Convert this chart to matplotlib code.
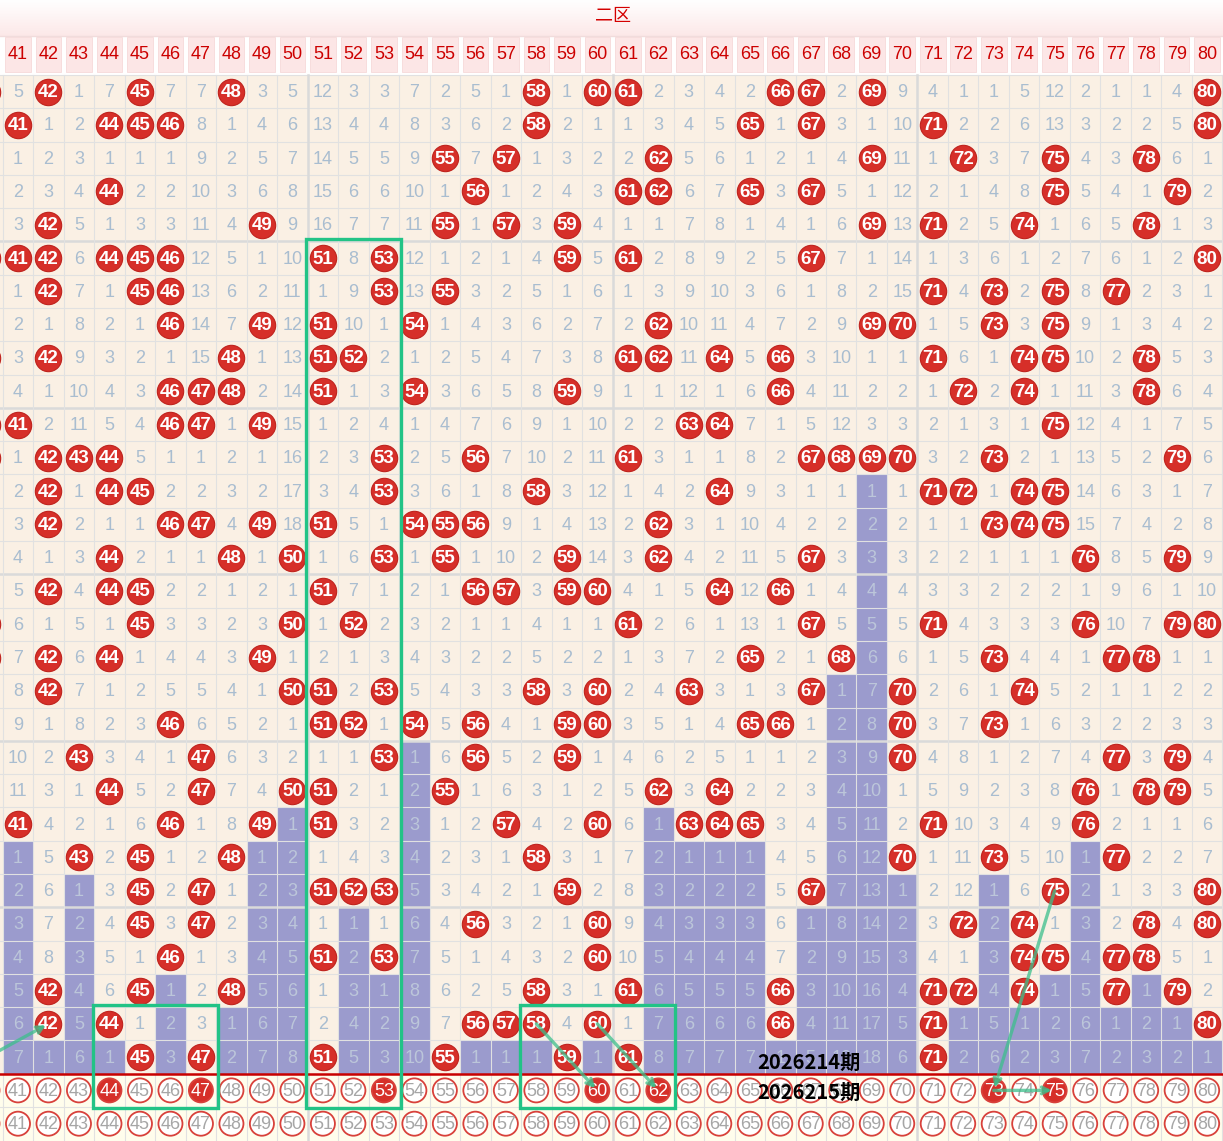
import numpy as np
import matplotlib.pyplot as plt
from matplotlib.patches import Rectangle

plt.rcParams['font.family'] = ['Liberation Sans', 'Noto Sans CJK SC', 'DejaVu Sans']

# ---------- data ----------
columns = list(range(41, 81))
zone_title = "二区"

# 0 = number drawn in that period (red ball), otherwise periods since last draw
miss_rows = [
    [5, 0, 1, 7, 0, 7, 7, 0, 3, 5, 12, 3, 3, 7, 2, 5, 1, 0, 1, 0, 0, 2, 3, 4, 2, 0, 0, 2, 0, 9, 4, 1, 1, 5, 12, 2, 1, 1, 4, 0],
    [0, 1, 2, 0, 0, 0, 8, 1, 4, 6, 13, 4, 4, 8, 3, 6, 2, 0, 2, 1, 1, 3, 4, 5, 0, 1, 0, 3, 1, 10, 0, 2, 2, 6, 13, 3, 2, 2, 5, 0],
    [1, 2, 3, 1, 1, 1, 9, 2, 5, 7, 14, 5, 5, 9, 0, 7, 0, 1, 3, 2, 2, 0, 5, 6, 1, 2, 1, 4, 0, 11, 1, 0, 3, 7, 0, 4, 3, 0, 6, 1],
    [2, 3, 4, 0, 2, 2, 10, 3, 6, 8, 15, 6, 6, 10, 1, 0, 1, 2, 4, 3, 0, 0, 6, 7, 0, 3, 0, 5, 1, 12, 2, 1, 4, 8, 0, 5, 4, 1, 0, 2],
    [3, 0, 5, 1, 3, 3, 11, 4, 0, 9, 16, 7, 7, 11, 0, 1, 0, 3, 0, 4, 1, 1, 7, 8, 1, 4, 1, 6, 0, 13, 0, 2, 5, 0, 1, 6, 5, 0, 1, 3],
    [0, 0, 6, 0, 0, 0, 12, 5, 1, 10, 0, 8, 0, 12, 1, 2, 1, 4, 0, 5, 0, 2, 8, 9, 2, 5, 0, 7, 1, 14, 1, 3, 6, 1, 2, 7, 6, 1, 2, 0],
    [1, 0, 7, 1, 0, 0, 13, 6, 2, 11, 1, 9, 0, 13, 0, 3, 2, 5, 1, 6, 1, 3, 9, 10, 3, 6, 1, 8, 2, 15, 0, 4, 0, 2, 0, 8, 0, 2, 3, 1],
    [2, 1, 8, 2, 1, 0, 14, 7, 0, 12, 0, 10, 1, 0, 1, 4, 3, 6, 2, 7, 2, 0, 10, 11, 4, 7, 2, 9, 0, 0, 1, 5, 0, 3, 0, 9, 1, 3, 4, 2],
    [3, 0, 9, 3, 2, 1, 15, 0, 1, 13, 0, 0, 2, 1, 2, 5, 4, 7, 3, 8, 0, 0, 11, 0, 5, 0, 3, 10, 1, 1, 0, 6, 1, 0, 0, 10, 2, 0, 5, 3],
    [4, 1, 10, 4, 3, 0, 0, 0, 2, 14, 0, 1, 3, 0, 3, 6, 5, 8, 0, 9, 1, 1, 12, 1, 6, 0, 4, 11, 2, 2, 1, 0, 2, 0, 1, 11, 3, 0, 6, 4],
    [0, 2, 11, 5, 4, 0, 0, 1, 0, 15, 1, 2, 4, 1, 4, 7, 6, 9, 1, 10, 2, 2, 0, 0, 7, 1, 5, 12, 3, 3, 2, 1, 3, 1, 0, 12, 4, 1, 7, 5],
    [1, 0, 0, 0, 5, 1, 1, 2, 1, 16, 2, 3, 0, 2, 5, 0, 7, 10, 2, 11, 0, 3, 1, 1, 8, 2, 0, 0, 0, 0, 3, 2, 0, 2, 1, 13, 5, 2, 0, 6],
    [2, 0, 1, 0, 0, 2, 2, 3, 2, 17, 3, 4, 0, 3, 6, 1, 8, 0, 3, 12, 1, 4, 2, 0, 9, 3, 1, 1, 1, 1, 0, 0, 1, 0, 0, 14, 6, 3, 1, 7],
    [3, 0, 2, 1, 1, 0, 0, 4, 0, 18, 0, 5, 1, 0, 0, 0, 9, 1, 4, 13, 2, 0, 3, 1, 10, 4, 2, 2, 2, 2, 1, 1, 0, 0, 0, 15, 7, 4, 2, 8],
    [4, 1, 3, 0, 2, 1, 1, 0, 1, 0, 1, 6, 0, 1, 0, 1, 10, 2, 0, 14, 3, 0, 4, 2, 11, 5, 0, 3, 3, 3, 2, 2, 1, 1, 1, 0, 8, 5, 0, 9],
    [5, 0, 4, 0, 0, 2, 2, 1, 2, 1, 0, 7, 1, 2, 1, 0, 0, 3, 0, 0, 4, 1, 5, 0, 12, 0, 1, 4, 4, 4, 3, 3, 2, 2, 2, 1, 9, 6, 1, 10],
    [6, 1, 5, 1, 0, 3, 3, 2, 3, 0, 1, 0, 2, 3, 2, 1, 1, 4, 1, 1, 0, 2, 6, 1, 13, 1, 0, 5, 5, 5, 0, 4, 3, 3, 3, 0, 10, 7, 0, 0],
    [7, 0, 6, 0, 1, 4, 4, 3, 0, 1, 2, 1, 3, 4, 3, 2, 2, 5, 2, 2, 1, 3, 7, 2, 0, 2, 1, 0, 6, 6, 1, 5, 0, 4, 4, 1, 0, 0, 1, 1],
    [8, 0, 7, 1, 2, 5, 5, 4, 1, 0, 0, 2, 0, 5, 4, 3, 3, 0, 3, 0, 2, 4, 0, 3, 1, 3, 0, 1, 7, 0, 2, 6, 1, 0, 5, 2, 1, 1, 2, 2],
    [9, 1, 8, 2, 3, 0, 6, 5, 2, 1, 0, 0, 1, 0, 5, 0, 4, 1, 0, 0, 3, 5, 1, 4, 0, 0, 1, 2, 8, 0, 3, 7, 0, 1, 6, 3, 2, 2, 3, 3],
    [10, 2, 0, 3, 4, 1, 0, 6, 3, 2, 1, 1, 0, 1, 6, 0, 5, 2, 0, 1, 4, 6, 2, 5, 1, 1, 2, 3, 9, 0, 4, 8, 1, 2, 7, 4, 0, 3, 0, 4],
    [11, 3, 1, 0, 5, 2, 0, 7, 4, 0, 0, 2, 1, 2, 0, 1, 6, 3, 1, 2, 5, 0, 3, 0, 2, 2, 3, 4, 10, 1, 5, 9, 2, 3, 8, 0, 1, 0, 0, 5],
    [0, 4, 2, 1, 6, 0, 1, 8, 0, 1, 0, 3, 2, 3, 1, 2, 0, 4, 2, 0, 6, 1, 0, 0, 0, 3, 4, 5, 11, 2, 0, 10, 3, 4, 9, 0, 2, 1, 1, 6],
    [1, 5, 0, 2, 0, 1, 2, 0, 1, 2, 1, 4, 3, 4, 2, 3, 1, 0, 3, 1, 7, 2, 1, 1, 1, 4, 5, 6, 12, 0, 1, 11, 0, 5, 10, 1, 0, 2, 2, 7],
    [2, 6, 1, 3, 0, 2, 0, 1, 2, 3, 0, 0, 0, 5, 3, 4, 2, 1, 0, 2, 8, 3, 2, 2, 2, 5, 0, 7, 13, 1, 2, 12, 1, 6, 0, 2, 1, 3, 3, 0],
    [3, 7, 2, 4, 0, 3, 0, 2, 3, 4, 1, 1, 1, 6, 4, 0, 3, 2, 1, 0, 9, 4, 3, 3, 3, 6, 1, 8, 14, 2, 3, 0, 2, 0, 1, 3, 2, 0, 4, 0],
    [4, 8, 3, 5, 1, 0, 1, 3, 4, 5, 0, 2, 0, 7, 5, 1, 4, 3, 2, 0, 10, 5, 4, 4, 4, 7, 2, 9, 15, 3, 4, 1, 3, 0, 0, 4, 0, 0, 5, 1],
    [5, 0, 4, 6, 0, 1, 2, 0, 5, 6, 1, 3, 1, 8, 6, 2, 5, 0, 3, 1, 0, 6, 5, 5, 5, 0, 3, 10, 16, 4, 0, 0, 4, 0, 1, 5, 0, 1, 0, 2],
    [6, 0, 5, 0, 1, 2, 3, 1, 6, 7, 2, 4, 2, 9, 7, 0, 0, 0, 4, 0, 1, 7, 6, 6, 6, 0, 4, 11, 17, 5, 0, 1, 5, 1, 2, 6, 1, 2, 1, 0],
    [7, 1, 6, 1, 0, 3, 0, 2, 7, 8, 0, 5, 3, 10, 0, 1, 1, 1, 0, 1, 0, 8, 7, 7, 7, 1, 5, 12, 18, 6, 0, 2, 6, 2, 3, 7, 2, 3, 2, 1],
]
col40_hits = [1, 6, 9, 11, 12, 17, 18]   # rows where the cut-off column 40 shows a ball
period_labels = ["2026214期", "2026215期"]
pick_numbers = [44, 47, 53, 60, 62, 73, 75]

# green marks: (first col, last col, first row, last row); row 31 = pick row
frames = [(51, 53, 6, 31), (44, 47, 29, 31), (58, 62, 29, 31)]
links = [((40, 30), (42, 29)), ((58, 29), (60, 31)), ((60, 29), (62, 31)),
         ((75, 25), (73, 31)), ((73, 31), (75, 31))]

# ---------- styles ----------
BG = '#FAF0E4'
GRID = '#E1E1E1'
MISS = '#A9BDD0'
MISS_ON_BAR = '#BCC6DA'
BAR = '#9B9BCD'
BALL = '#D62F29'
BALL_EDGE = '#BF221D'
GREEN = '#22C386'

data = np.array(miss_rows)
n_rows, n_cols = data.shape
pick_row = n_rows + 1
plain_row = n_rows + 2

fig = plt.figure(figsize=(12.23, 11.41), dpi=100)
ax = fig.add_axes([0, 0, 1, 1])

# header band gradient
grad = np.linspace(0, 1, 50)[:, None, None] * (np.array([0.99, 0.91, 0.91]) - 1) + 1
ax.imshow(grad, extent=(39.5, 81.5, -0.68, -1.75), aspect='auto', origin='upper', zorder=0)
ax.axhline(-0.68, color='#F1DCDC', lw=1, zorder=1)
ax.text(np.mean(columns), -1.25, zone_title, color='#D40000', fontsize=13,
        ha='center', va='center', zorder=5)

# header cells
for c in columns:
    ax.add_patch(Rectangle((c - 0.42, -0.645), 0.84, 1.05, fc='#FCE6E6', ec='#F6DADA',
                           lw=0.6, zorder=1))
    ax.text(c, -0.1, str(c), color='#CC0000', fontsize=13, ha='center', va='center', zorder=5)

# data area
ax.add_patch(Rectangle((39.5, 0.5), 42, n_rows, fc=BG, ec='none', zorder=0))
ax.add_patch(Rectangle((39.5, n_rows + 0.5), 42, 2.1, fc='#FFFDEC', ec='none', zorder=0))

# trailing misses (current omission) shown as bars
bar_cells = np.zeros_like(data, dtype=bool)
for j in range(n_cols):
    hits = np.where(data[:, j] == 0)[0]
    last = hits[-1] if len(hits) else -1
    bar_cells[last + 1:, j] = True
for i in range(n_rows):
    for j in range(n_cols):
        if bar_cells[i, j]:
            ax.add_patch(Rectangle((columns[j] - 0.5, i + 0.5), 1, 1, fc=BAR, ec='none', zorder=1))

# grid
for r in range(0, n_rows + 1):
    thick = r % 5 == 0 and 0 < r < n_rows
    ax.plot([39.5, 81.5], [r + 0.5, r + 0.5], color='#DADADA' if thick else GRID,
            lw=1.8 if thick else 0.8, zorder=2)
ax.plot([39.5, 81.5], [pick_row + 0.5, pick_row + 0.5], color=GRID, lw=0.8, zorder=2)
for c in [40] + columns:
    thick = c % 10 == 0 and 40 < c < 80
    ax.plot([c + 0.5, c + 0.5], [0.5, plain_row + 0.6], color='#DADADA' if thick else GRID,
            lw=1.8 if thick else 0.8, zorder=2)
ax.plot([39.5, 81.5], [n_rows + 0.5, n_rows + 0.5], color='#C80000', lw=1.8, zorder=3)

# balls and omission numbers
rows_idx, cols_idx = np.where(data == 0)
bx = [columns[j] for j in cols_idx]
by = rows_idx + 1
ax.scatter(bx, by, s=360, c=BALL, edgecolors=BALL_EDGE, linewidths=0.8, zorder=4)
ax.scatter([40] * len(col40_hits), col40_hits, s=360, c=BALL, edgecolors=BALL_EDGE,
           linewidths=0.8, zorder=4)
for i in range(n_rows):
    for j in range(n_cols):
        v = data[i, j]
        if v == 0:
            ax.text(columns[j], i + 1.03, str(columns[j]), color='white', fontsize=13.5,
                    fontweight='bold', ha='center', va='center', zorder=5)
        else:
            ax.text(columns[j], i + 1.03, str(v), color=MISS_ON_BAR if bar_cells[i, j] else MISS,
                    fontsize=13, ha='center', va='center', zorder=5)

# pick row and plain row of circled numbers
circ_cols = [40] + columns
for row in (pick_row, plain_row):
    filled = [c in pick_numbers and row == pick_row for c in circ_cols]
    ax.scatter(circ_cols, [row] * len(circ_cols), s=300,
               c=[BALL if f else 'white' for f in filled], edgecolors='#D8413B',
               linewidths=1.3, zorder=4)
    for c, f in zip(columns, filled[1:]):
        ax.text(c, row + 0.03, str(c), color='white' if f else '#A6A6A6', fontsize=13,
                ha='center', va='center', zorder=5)

# green frames and links
for c0, c1, r0, r1 in frames:
    ax.add_patch(Rectangle((c0 - 0.55, r0 - 0.56), c1 - c0 + 1.1, r1 - r0 + 1.1,
                           fc='none', ec=GREEN, lw=2.4, zorder=6))
for (c0, r0), (c1, r1) in links:
    ax.annotate('', xy=(c1, r1), xytext=(c0, r0),
                arrowprops=dict(arrowstyle='->', color='#3DBF8C', lw=2.4, alpha=0.75,
                                shrinkA=0, shrinkB=2, mutation_scale=12),
                zorder=6, annotation_clip=False)

# period labels
for k, lab in enumerate(period_labels):
    ax.text(66.95, n_rows + k + 0.15 - 0.1 * k, lab, color='black', fontsize=14.5,
            fontweight='bold', family=['Noto Sans CJK SC', 'DejaVu Sans'],
            ha='center', va='center', zorder=7)

ax.set_xlim(40.41, 80.52)
ax.set_ylim(32.52, -1.75)
ax.axis('off')
fig.savefig('out.png', dpi=100)
